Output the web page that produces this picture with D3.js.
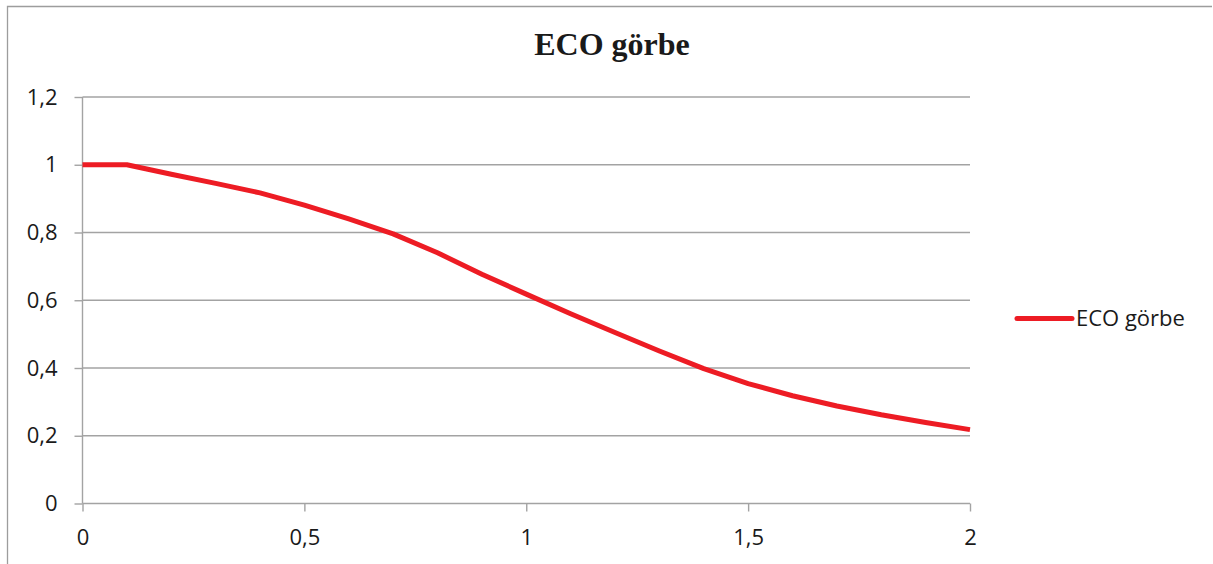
<!DOCTYPE html>
<html>
<head>
<meta charset="utf-8">
<script src="https://cdn.jsdelivr.net/npm/d3@7/dist/d3.min.js"></script>
<style>
  html, body { margin: 0; padding: 0; background: #fff; }
  svg { display: block; }
  .tick-label { font-family: "Open Sans", "Liberation Sans", sans-serif; font-size: 22px; fill: #1a1a1a; }
</style>
</head>
<body>
<svg id="chart" width="1213" height="564"></svg>
<script>
// ECO curve samples, every 0.1 from 0 to 2
const xValues = [0, 0.1, 0.2, 0.3, 0.4, 0.5, 0.6, 0.7, 0.8, 0.9, 1.0,
                 1.1, 1.2, 1.3, 1.4, 1.5, 1.6, 1.7, 1.8, 1.9, 2.0];
const ecoValues = [1, 1, 0.972, 0.945, 0.917, 0.881, 0.840, 0.796, 0.740, 0.677, 0.618,
                   0.560, 0.505, 0.450, 0.398, 0.354, 0.318, 0.288, 0.262, 0.239, 0.218];
const seriesName = "ECO görbe";
const chartTitle = "ECO görbe";
const xTicks = [0, 0.5, 1, 1.5, 2];
const yTicks = [0, 0.2, 0.4, 0.6, 0.8, 1, 1.2];

const fmt = v => String(v).replace(".", ",");

const svg = d3.select("#chart");

// outer chart frame (top and left edges)
svg.append("path")
  .attr("d", "M7.5,564 L7.5,6.5 L1212,6.5")
  .attr("fill", "none")
  .attr("stroke", "#9d9d9d")
  .attr("stroke-width", 1.3);

const x = d3.scaleLinear().domain([0, 2]).range([82.5, 970]);
const y = d3.scaleLinear().domain([0, 1.2]).range([503.5, 97]);

// horizontal gridlines
svg.append("g")
  .selectAll("line")
  .data(yTicks.filter(t => t > 0))
  .join("line")
  .attr("x1", x(0)).attr("x2", x(2))
  .attr("y1", d => y(d)).attr("y2", d => y(d))
  .attr("stroke", "#a3a3a3")
  .attr("stroke-width", 1.4);

// y axis
const yAxis = svg.append("g")
  .attr("transform", `translate(${x(0)},0)`)
  .call(d3.axisLeft(y).tickValues(yTicks).tickSize(8).tickPadding(17).tickFormat(fmt));
// x axis
const xAxis = svg.append("g")
  .attr("transform", `translate(0,${y(0)})`)
  .call(d3.axisBottom(x).tickValues(xTicks).tickSize(8).tickPadding(18).tickFormat(fmt));

[yAxis, xAxis].forEach(g => {
  g.attr("font-family", null).attr("font-size", null);
  g.select(".domain").attr("stroke", "#a3a3a3").attr("stroke-width", 1.4);
  g.selectAll(".tick line").attr("stroke", "#a3a3a3").attr("stroke-width", 1.4);
  g.selectAll(".tick text").attr("class", "tick-label");
});
// plain domain paths without outer caps
yAxis.select(".domain").attr("d", `M0,${y(1.2)}V${y(0)}`);
xAxis.select(".domain").attr("d", `M${x(0)},0H${x(2)}`);

// data line
const line = d3.line()
  .x((d, i) => x(xValues[i]))
  .y(d => y(d));

svg.append("path")
  .datum(ecoValues)
  .attr("d", line)
  .attr("fill", "none")
  .attr("stroke", "#ed1c24")
  .attr("stroke-width", 5)
  .attr("stroke-linejoin", "round");

// title
svg.append("text")
  .attr("x", 612)
  .attr("y", 55)
  .attr("text-anchor", "middle")
  .attr("font-family", "'Liberation Serif', 'Times New Roman', serif")
  .attr("font-weight", "bold")
  .attr("font-size", 32)
  .attr("fill", "#1a1a1a")
  .text(chartTitle);

// legend
const legend = svg.append("g").attr("transform", "translate(1017,318.5)");
legend.append("line")
  .attr("x1", 0).attr("x2", 55)
  .attr("y1", 0).attr("y2", 0)
  .attr("stroke", "#ed1c24")
  .attr("stroke-width", 5)
  .attr("stroke-linecap", "round");
legend.append("text")
  .attr("class", "tick-label")
  .attr("x", 59)
  .attr("y", 0)
  .attr("dy", "0.36em")
  .text(seriesName);
</script>
</body>
</html>
